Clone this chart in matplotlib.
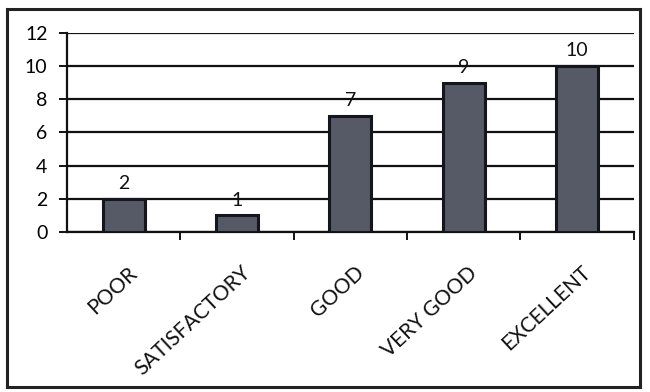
import matplotlib
matplotlib.use("Agg")
import matplotlib.pyplot as plt
from matplotlib.patches import Rectangle

categories = ["POOR", "SATISFACTORY", "GOOD", "VERY GOOD", "EXCELLENT"]
values = [2, 1, 7, 9, 10]
yticks = [0, 2, 4, 6, 8, 10, 12]

plt.rcParams["font.family"] = ["Lato", "DejaVu Sans"]

fig = plt.figure(figsize=(6.5, 3.92), dpi=100)
ax = fig.add_axes([0.103, 0.408, 0.872, 0.508])

x = range(len(categories))
ax.bar(x, values, width=0.37, color="#565966", edgecolor="#15151c",
       linewidth=2.2, zorder=3)

for xi, v in zip(x, values):
    ax.text(xi, v + 0.4, str(v), ha="center", va="bottom", fontsize=14,
            color="#111111", zorder=4)

ax.set_xlim(-0.5, len(categories) - 0.5)
ax.set_ylim(0, 12)
ax.set_yticks(yticks)
ax.set_yticklabels([str(t) for t in yticks], fontsize=14)
ax.yaxis.grid(True, color="#111111", linewidth=1.6, zorder=0)
ax.set_axisbelow(True)

ax.set_xticks([i + 0.5 for i in x])
ax.set_xticklabels([])
ax.tick_params(axis="x", length=6, width=1.4, color="#111111", direction="out")
ax.tick_params(axis="y", length=6, width=1.4, color="#111111", direction="out",
               pad=8)

for xi, lab in zip(x, categories):
    ax.annotate(lab, xy=(xi, 0), xycoords=("data", "axes fraction"),
                xytext=(3, -22), textcoords="offset points",
                rotation=43, ha="right", va="top", rotation_mode="anchor",
                fontsize=15, color="#111111")

for side in ["top", "right"]:
    ax.spines[side].set_visible(False)
ax.spines["left"].set_linewidth(1.6)
ax.spines["bottom"].set_linewidth(1.6)
ax.spines["left"].set_color("#111111")
ax.spines["bottom"].set_color("#111111")

fig.patches.append(Rectangle((0.01, 0.012), 0.975, 0.965, transform=fig.transFigure,
                             fill=False, edgecolor="#222222", linewidth=2.2))

fig.savefig("out.png", dpi=100)
